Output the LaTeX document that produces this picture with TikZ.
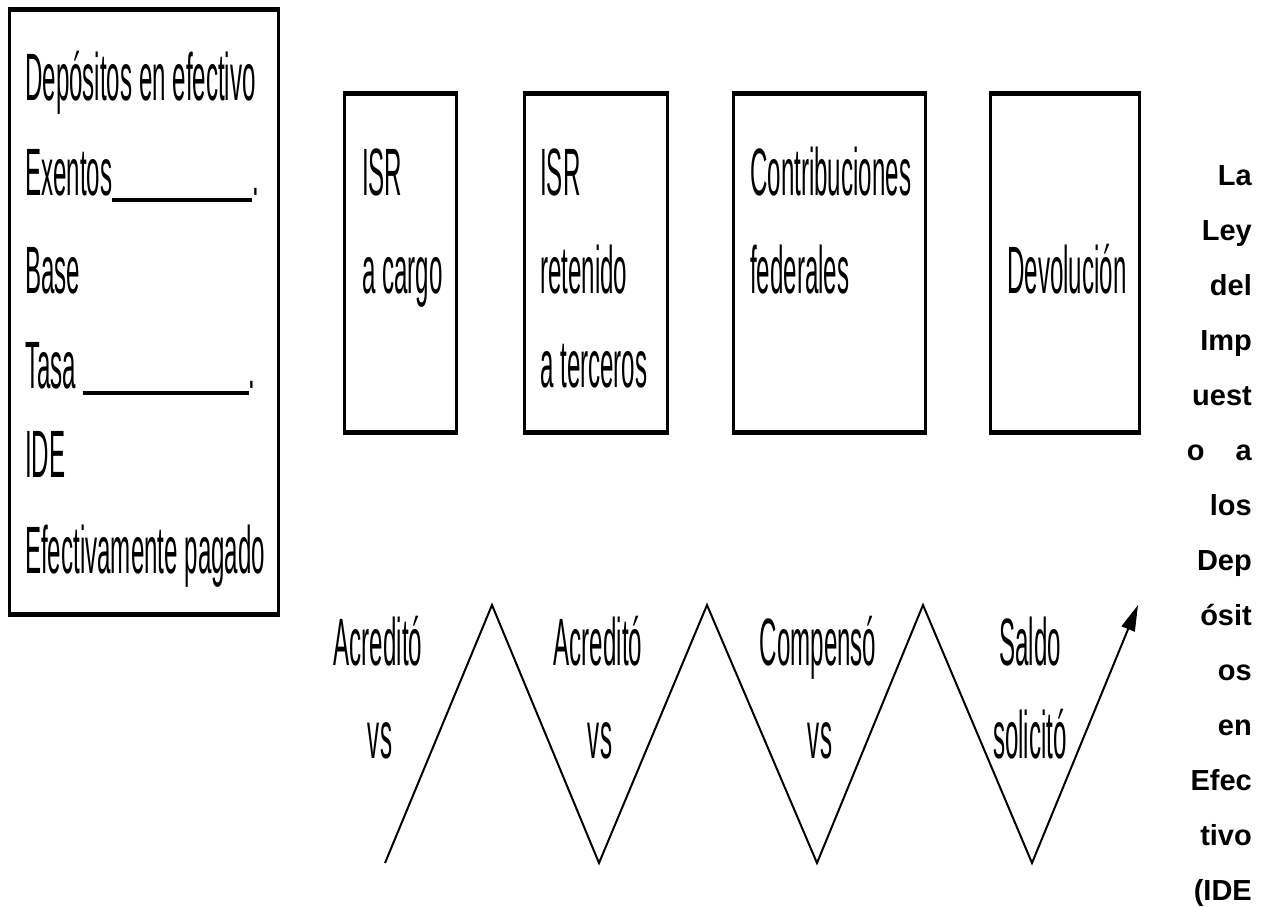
\documentclass[tikz,border=0pt]{standalone}
\usepackage{fontspec}
\usetikzlibrary{arrows.meta}
\setmainfont{Liberation Sans}
\newfontfamily\narrowfont{Liberation Sans}[FakeStretch=0.36]
\newfontfamily\sidefont{Liberation Sans}
\begin{document}
\begin{tikzpicture}[x=1pt,y=-1pt,
  boxframe/.style={draw, line width=2.5pt, inner sep=0pt, anchor=north west},
  edgeline/.style={line width=5pt},
  txt/.style={font=\narrowfont\fontsize{67}{67}\selectfont, inner sep=0pt, anchor=base west},
  ctxt/.style={txt, anchor=base},
  side/.style={font=\sidefont\bfseries\fontsize{29}{29}\selectfont, inner sep=0pt, anchor=base east},
  zig/.style={line width=2pt}]
\useasboundingbox[fill=white] (0,0) rectangle (1269,907);

% left box
\node[boxframe, minimum width=269pt, minimum height=602pt] (dep) at (8,10) {};
\draw[edgeline] (dep.north west) -- (dep.north east);
\draw[edgeline] (dep.south west) -- (dep.south east);
\node[txt] (l1) at (25,100) {Depósitos en efectivo};
\node[txt] (l2) at (25,195) {Exentos\rule[-7pt]{140pt}{4pt}.};
\node[txt] (l3) at (25,293) {Base};
\node[txt] (l4) at (25,388) {Tasa \rule[-7pt]{166pt}{4pt}.};
\node[txt] (l5) at (25,477) {IDE};
\node[txt] (l6) at (25,573) {Efectivamente pagado};

% four boxes
\node[boxframe, minimum width=112pt, minimum height=337pt] (b1) at (343,93) {};
\node[boxframe, minimum width=143pt, minimum height=337pt] (b2) at (523,93) {};
\node[boxframe, minimum width=192pt, minimum height=337pt] (b3) at (732,93) {};
\node[boxframe, minimum width=149pt, minimum height=337pt] (b4) at (989,93) {};
\foreach \b in {b1,b2,b3,b4}{
  \draw[edgeline] (\b.north west) -- (\b.north east);
  \draw[edgeline] (\b.south west) -- (\b.south east);
}
\node[txt] (b1a) at (362,195) {ISR};
\node[txt] (b1b) at (362,293) {a cargo};
\node[txt] (b2a) at (540,195) {ISR};
\node[txt] (b2b) at (540,293) {retenido};
\node[txt] (b2c) at (540,387) {a terceros};
\node[txt] (b3a) at (750,195) {Contribuciones};
\node[txt] (b3b) at (750,293) {federales};
\node[txt] (b4a) at (1007,293) {Devolución};

% zigzag
\coordinate (z0) at (385,863);
\coordinate (z1) at (492,605);
\coordinate (z2) at (599,863);
\coordinate (z3) at (707,605);
\coordinate (z4) at (817,863);
\coordinate (z5) at (923,605);
\coordinate (z6) at (1032,863);
\coordinate (z7) at (1138,605);
\draw[zig, -{Triangle[length=26pt,width=14pt]}] (z0) -- (z1) -- (z2) -- (z3) -- (z4) -- (z5) -- (z6) -- (z7);

\node[ctxt] (a1) at (378,665) {Acreditó};
\node[ctxt] (v1) at (380,758) {vs};
\node[ctxt] (a2) at (598,665) {Acreditó};
\node[ctxt] (v2) at (600,758) {vs};
\node[ctxt] (a3) at (818,665) {Compensó};
\node[ctxt] (v3) at (820,758) {vs};
\node[ctxt] (a4) at (1030,665) {Saldo};
\node[ctxt] (v4) at (1030,758) {solicitó};

% right column
\foreach \t [count=\i] in {La,Ley,del,Imp,uest,{\makebox[65pt]{o\hfill a}},los,Dep,ósit,os,en,Efec,tivo,{(IDE}}
  \node[side] (s\i) at (1252,{185+55*(\i-1)}) {\t};
\end{tikzpicture}
\end{document}
